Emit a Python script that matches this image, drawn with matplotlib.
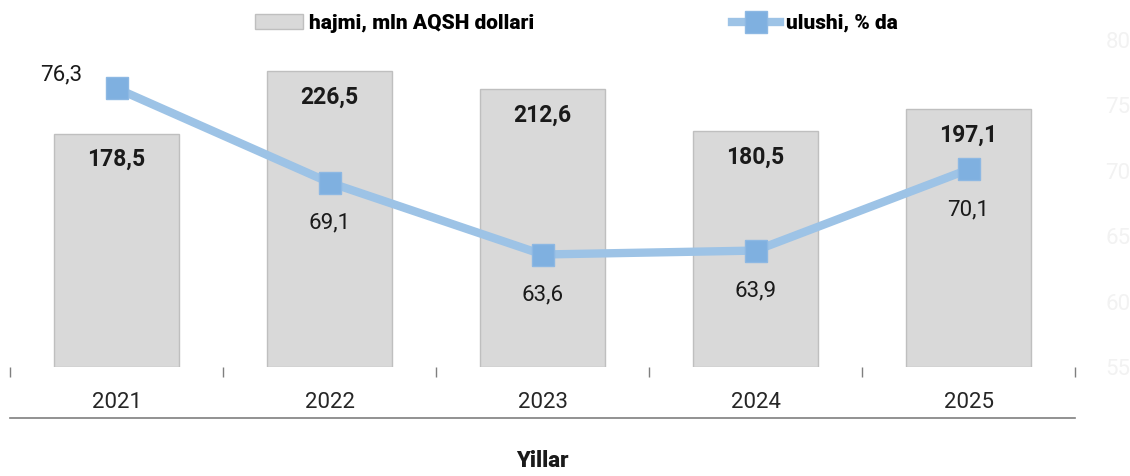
import matplotlib.pyplot as plt

plt.rcParams['font.family'] = ['Roboto', 'DejaVu Sans']

years = ['2021', '2022', '2023', '2024', '2025']
volume = [178.5, 226.5, 212.6, 180.5, 197.1]
share = [76.3, 69.1, 63.6, 63.9, 70.1]
right_ticks = [55, 60, 65, 70, 75, 80]

def fmt(v):
    return f'{v:.1f}'.replace('.', ',')

fig = plt.figure(figsize=(11.3, 4.76), dpi=100)
ax = fig.add_axes([0.00885, 0.229, 0.9425, 0.687])
x = list(range(len(years)))

ax.bar(x, volume, width=0.59, color='#d9d9d9', edgecolor='#bfbfbf', linewidth=1,
       label='hajmi, mln AQSH dollari', zorder=2)
for xi, v in zip(x, volume):
    ax.text(xi, v - 20, fmt(v), ha='center', va='center', fontsize=16.5,
            fontweight='bold', color='#1a1a1a', zorder=5)

ax.set_xlim(-0.5, 4.5)
ax.set_ylim(0, 250)
ax.set_yticks([])
for s in ['top', 'right', 'left', 'bottom']:
    ax.spines[s].set_visible(False)
ax.set_xticks(x)
ax.set_xticklabels(years, fontsize=16, color='#262626')
ax.tick_params(axis='x', which='major', length=0, pad=18)
ax.set_xticks([-0.5, 0.5, 1.5, 2.5, 3.5, 4.5], minor=True)
ax.tick_params(axis='x', which='minor', length=7, width=1, color='#7f7f7f')
ax.plot([0, 1], [-0.156, -0.156], transform=ax.transAxes, clip_on=False,
        color='#7f7f7f', linewidth=1.2)
ax.set_xlabel('Yillar', fontsize=16, fontweight='heavy', labelpad=27, color='#1a1a1a')

ax2 = ax.twinx()
ax2.plot(x, share, color='#9dc3e6', linewidth=6, marker='s', markersize=16,
         markerfacecolor='#7fb0e0', markeredgecolor='#8db8e3', markeredgewidth=1,
         label='ulushi, % da', zorder=4)
ax2.set_ylim(55, 80)
ax2.set_yticks(right_ticks)
ax2.tick_params(axis='y', length=0, labelsize=16, labelcolor='#f2f2f2', pad=22)
for s in ['top', 'right', 'left', 'bottom']:
    ax2.spines[s].set_visible(False)

for i, (xi, v) in enumerate(zip(x, share)):
    if i == 0:
        ax2.annotate(fmt(v), (xi, v), xytext=(-40, 10), textcoords='offset points',
                     ha='center', va='center', fontsize=16, color='#1a1a1a')
    else:
        ax2.annotate(fmt(v), (xi, v), xytext=(0, -29), textcoords='offset points',
                     ha='center', va='center', fontsize=16, color='#1a1a1a')

h1, l1 = ax.get_legend_handles_labels()
h2, l2 = ax2.get_legend_handles_labels()
leg = fig.legend(h1 + h2, l1 + l2, loc='upper center', bbox_to_anchor=(0.51, 1.01),
                 ncol=2, frameon=False, columnspacing=9.5, handlelength=2.3,
                 handletextpad=0.3, prop={'size': 15, 'weight': 'heavy'})

fig.savefig('out.png', dpi=100)
